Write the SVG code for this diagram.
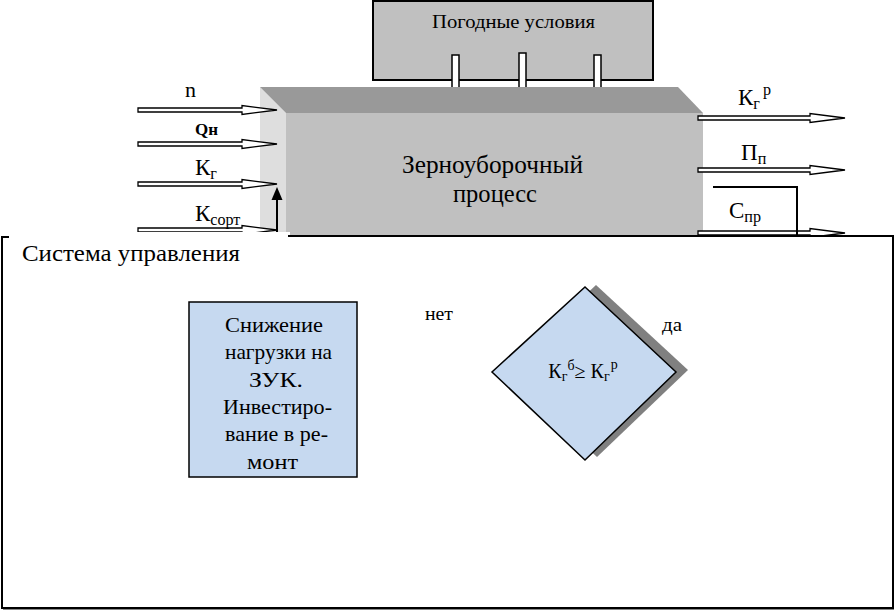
<svg xmlns="http://www.w3.org/2000/svg" width="896" height="611" viewBox="0 0 896 611">
<style>
.arr{fill:#fff;stroke:#000;stroke-width:1.3;stroke-linejoin:miter}
.ln{fill:none;stroke:#000;stroke-width:2}
.sub{font-size:70%}
</style>
<rect width="896" height="611" fill="#fff"/>
<g id="weather">
<rect x="373" y="1" width="280" height="79" fill="#c0c0c0" stroke="#000" stroke-width="2"/>
<text x="432" y="28" font-size="19" font-family="Liberation Serif, serif" textLength="163" lengthAdjust="spacingAndGlyphs">Погодные условия</text>
<rect x="452" y="55" width="7" height="34" fill="#fff" stroke="#000" stroke-width="1.5"/>
<rect x="519" y="53" width="7" height="36" fill="#fff" stroke="#000" stroke-width="1.5"/>
<rect x="594" y="55" width="7" height="34" fill="#fff" stroke="#000" stroke-width="1.5"/>
</g>
<g id="process">
<polygon points="260,87 286,113 286,233 260,233" fill="#dedede"/>
<polygon points="260,87 678,87 703,113 286,113" fill="#999"/>
<rect x="286" y="113" width="417" height="123" fill="#c0c0c0"/>
<line x1="288" y1="236" x2="703" y2="236" stroke="#000" stroke-width="2"/>
<text x="402" y="173" font-size="25" font-family="Liberation Serif, serif" textLength="181" lengthAdjust="spacingAndGlyphs">Зерноуборочный</text>
<text x="453" y="202" font-size="25" font-family="Liberation Serif, serif" textLength="84" lengthAdjust="spacingAndGlyphs">процесс</text>
</g>
<g id="connectors">
<polygon class="arr" points="138,108 242,108 242,105.5 277,110 242,114.5 242,112 138,112"/>
<polygon class="arr" points="138,142 242,142 242,139.5 277,144 242,148.5 242,146 138,146"/>
<polygon class="arr" points="138,182 242,182 242,179.5 277,184 242,188.5 242,186 138,186"/>
<polygon class="arr" points="138,228 242,228 242,225.5 277,230 242,234.5 242,232 138,232"/>
<line x1="277" y1="233" x2="277" y2="198" stroke="#000" stroke-width="2"/>
<polygon points="277,187 271.5,200 282.5,200" fill="#000"/>
<polygon class="arr" points="698,116 810,116 810,113.5 845,118 810,122.5 810,120 698,120"/>
<polygon class="arr" points="698,168 810,168 810,165.5 845,170 810,174.5 810,172 698,172"/>
<polygon class="arr" points="698,231 810,231 810,228.5 845,233 810,237.5 810,235 698,235"/>
<polyline class="ln" points="713,187 797,187 797,236"/>
</g>
<g id="labels">
<text x="185" y="97" font-size="22" font-family="Liberation Serif, serif">n</text>
<text x="195" y="135" font-size="17" font-weight="bold" font-family="Liberation Serif, serif">Qн</text>
<text x="195" y="175" font-size="23" font-family="Liberation Serif, serif">К<tspan class="sub" dy="4">г</tspan></text>
<text x="195" y="221" font-size="23" font-family="Liberation Serif, serif">К<tspan class="sub" dy="4">сорт</tspan></text>
<text x="738" y="105" font-size="23" font-family="Liberation Serif, serif">К<tspan class="sub" dy="4">г</tspan><tspan class="sub" dx="3" dy="-14">р</tspan></text>
<text x="741" y="160" font-size="23" font-family="Liberation Serif, serif">П<tspan class="sub" dy="4">п</tspan></text>
<text x="729" y="218" font-size="23" font-family="Liberation Serif, serif">С<tspan class="sub" dy="4">пр</tspan></text>
</g>
<g id="system">
<rect x="8" y="232" width="282" height="10" fill="#fff"/>
<rect x="2" y="237" width="891" height="371" fill="#fff"/>
<path class="ln" d="M9,237 H2 V608 H893 V236 H288"/>
<line x1="3" y1="609.5" x2="894" y2="609.5" stroke="#888" stroke-width="1"/>
<text x="22" y="261" font-size="23" font-family="Liberation Serif, serif" textLength="218" lengthAdjust="spacingAndGlyphs">Система управления</text>
</g>
<g id="action">
<rect x="189" y="302" width="168" height="175" fill="#c6d9f0" stroke="#000" stroke-width="1.5"/>
<text x="225" y="332" font-size="22" font-family="Liberation Serif, serif" textLength="98" lengthAdjust="spacingAndGlyphs">Снижение</text>
<text x="225" y="359" font-size="22" font-family="Liberation Serif, serif" textLength="107" lengthAdjust="spacingAndGlyphs">нагрузки на</text>
<text x="249" y="387" font-size="22" font-family="Liberation Serif, serif" textLength="54" lengthAdjust="spacingAndGlyphs">ЗУК.</text>
<text x="223" y="414" font-size="22" font-family="Liberation Serif, serif" textLength="109" lengthAdjust="spacingAndGlyphs">Инвестиро-</text>
<text x="225" y="441" font-size="22" font-family="Liberation Serif, serif" textLength="103" lengthAdjust="spacingAndGlyphs">вание в ре-</text>
<text x="247" y="469" font-size="22" font-family="Liberation Serif, serif" textLength="51" lengthAdjust="spacingAndGlyphs">монт</text>
</g>
<g id="decision">
<polygon points="596,285 688,370 597,457 505,370" fill="#808080"/>
<polygon points="585,287 676,372 585,460 492,372" fill="#c6d9f0" stroke="#000" stroke-width="1.5"/>
<text x="583" y="378" font-size="20" text-anchor="middle" font-family="Liberation Serif, serif">К<tspan class="sub" dy="3">г</tspan><tspan class="sub" dy="-11">б</tspan><tspan dy="8">≥ К</tspan><tspan class="sub" dy="3">г</tspan><tspan class="sub" dx="1" dy="-12">р</tspan></text>
</g>
<text x="425" y="320" font-size="19" font-family="Liberation Serif, serif" textLength="28" lengthAdjust="spacingAndGlyphs">нет</text>
<text x="662" y="331" font-size="19" font-family="Liberation Serif, serif" textLength="20" lengthAdjust="spacingAndGlyphs">да</text>
</svg>
